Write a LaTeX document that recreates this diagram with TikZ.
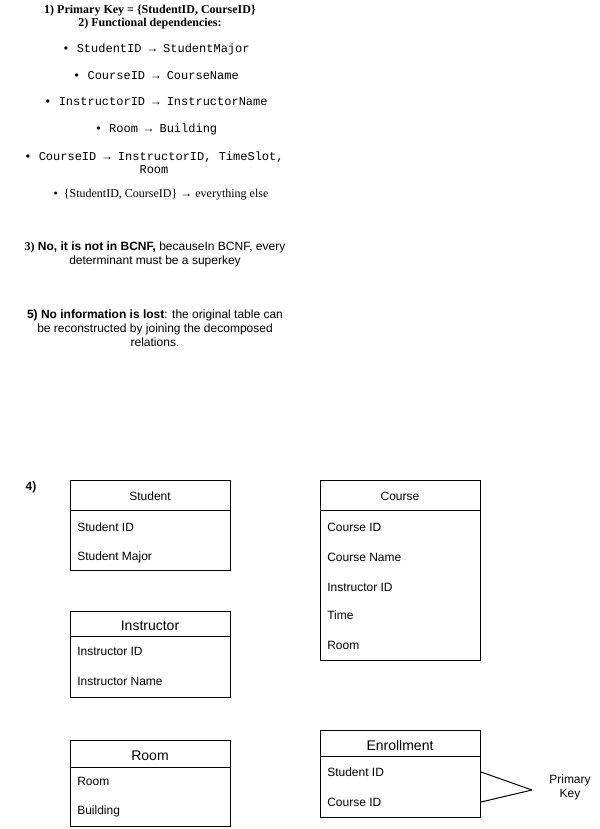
\documentclass[tikz,border=0pt]{standalone}
\usepackage{fontspec}
\setmainfont{Liberation Sans}
\newfontfamily\tms{Liberation Serif}
\newfontfamily\cour{Liberation Mono}
\begin{document}
\begin{tikzpicture}[x=0.75pt,y=-0.75pt,
  txt/.style={inner sep=0pt, align=center, yshift=-0.75pt, font=\fontsize{9}{10.5}\selectfont},
  serif/.style={inner sep=0pt, align=center, yshift=-0.75pt, font=\tms\fontsize{9}{9.75}\selectfont},
  mono/.style={inner sep=0pt, align=center, yshift=-0.75pt, font=\cour\fontsize{9}{9.75}\selectfont},
  tbox/.style={draw, line width=0.75pt, anchor=north west, inner sep=0pt, minimum width=120pt},
  hdr/.style={inner sep=0pt, yshift=-0.5pt, font=\fontsize{9}{11}\selectfont},
  bighdr/.style={inner sep=0pt, yshift=-0.5pt, font=\fontsize{10.5}{12}\selectfont},
  fld/.style={inner sep=0pt, anchor=west, yshift=-0.75pt, font=\fontsize{9}{11}\selectfont},
  sep/.style={line width=0.75pt},
  conn/.style={line width=0.75pt}
]
\useasboundingbox (0,0) rectangle (600,829);

% ---- text part ----
\node[serif, font=\tms\bfseries\fontsize{9}{9.75}\selectfont] (t1) at (150,16)
  {1) Primary Key = \{StudentID, CourseID\}\\2) Functional dependencies:};
\node[mono] (f1) at (156,48) {• StudentID → StudentMajor};
\node[mono] (f2) at (156,75) {• CourseID → CourseName};
\node[mono] (f3) at (156,101) {• InstructorID → InstructorName};
\node[mono] (f4) at (156,128) {• Room → Building};
\node[mono] (f5) at (154,161.5) {• CourseID → InstructorID, TimeSlot,\\Room};
\node[serif] (f6) at (161,194) {•\ \ \{StudentID, CourseID\} → everything else};

\node[txt, font=\fontsize{9}{11}\selectfont] (a3) at (155,253.5)
  {{\tms\bfseries 3)} {\bfseries No, it is not in BCNF,} becauseIn BCNF, every\\determinant must be a superkey};
\node[txt] (a5) at (155,327)
  {{\bfseries 5) No information is lost}: the original table can\\be reconstructed by joining the decomposed\\relations.};

\node[inner sep=0pt, font=\bfseries\fontsize{9}{11}\selectfont] (q4) at (31,487.5) {4)};

% ---- Student ----
\node[tbox, minimum height=67.5pt] (student) at (70,480) {};
\draw[sep] (student.west |- 0,510) -- (student.east |- 0,510);
\node[hdr] (sh) at (150,496) {Student};
\node[fld] (s1) at (77,526) {Student ID};
\node[fld] (s2) at (77,556) {Student Major};

% ---- Course ----
\node[tbox, minimum height=135pt] (course) at (320,480) {};
\draw[sep] (course.west |- 0,510) -- (course.east |- 0,510);
\node[hdr] (ch) at (400,496) {Course};
\node[fld] (c1) at (327,526) {Course ID};
\node[fld] (c2) at (327,556) {Course Name};
\node[fld] (c3) at (327,586) {Instructor ID};
\node[fld] (c4) at (327,614) {Time};
\node[fld] (c5) at (327,644) {Room};

% ---- Instructor ----
\node[tbox, minimum height=64.5pt] (instr) at (70,611) {};
\draw[sep] (instr.west |- 0,636) -- (instr.east |- 0,636);
\node[bighdr] (ih) at (150,625) {Instructor};
\node[fld] (i1) at (77,650) {Instructor ID};
\node[fld] (i2) at (77,680) {Instructor Name};

% ---- Room ----
\node[tbox, minimum height=64.5pt] (room) at (70,740) {};
\draw[sep] (room.west |- 0,767) -- (room.east |- 0,767);
\node[bighdr] (rh) at (150,755) {Room};
\node[fld] (r1) at (77,780) {Room};
\node[fld] (r2) at (77,810) {Building};

% ---- Enrollment ----
\node[tbox, minimum height=65.25pt] (enroll) at (320,730) {};
\draw[sep] (enroll.west |- 0,756) -- (enroll.east |- 0,756);
\node[bighdr] (eh) at (400,745) {Enrollment};
\node[fld] (e1) at (327,771) {Student ID};
\node[fld] (e2) at (327,801) {Course ID};

% ---- Primary key annotation ----
\node[txt] (pk) at (570,786) {Primary\\Key};
\coordinate (tip) at (532,790);
\draw[conn] (enroll.east |- e1) -- (tip);
\draw[conn] (enroll.east |- e2) -- (tip);
\end{tikzpicture}
\end{document}
